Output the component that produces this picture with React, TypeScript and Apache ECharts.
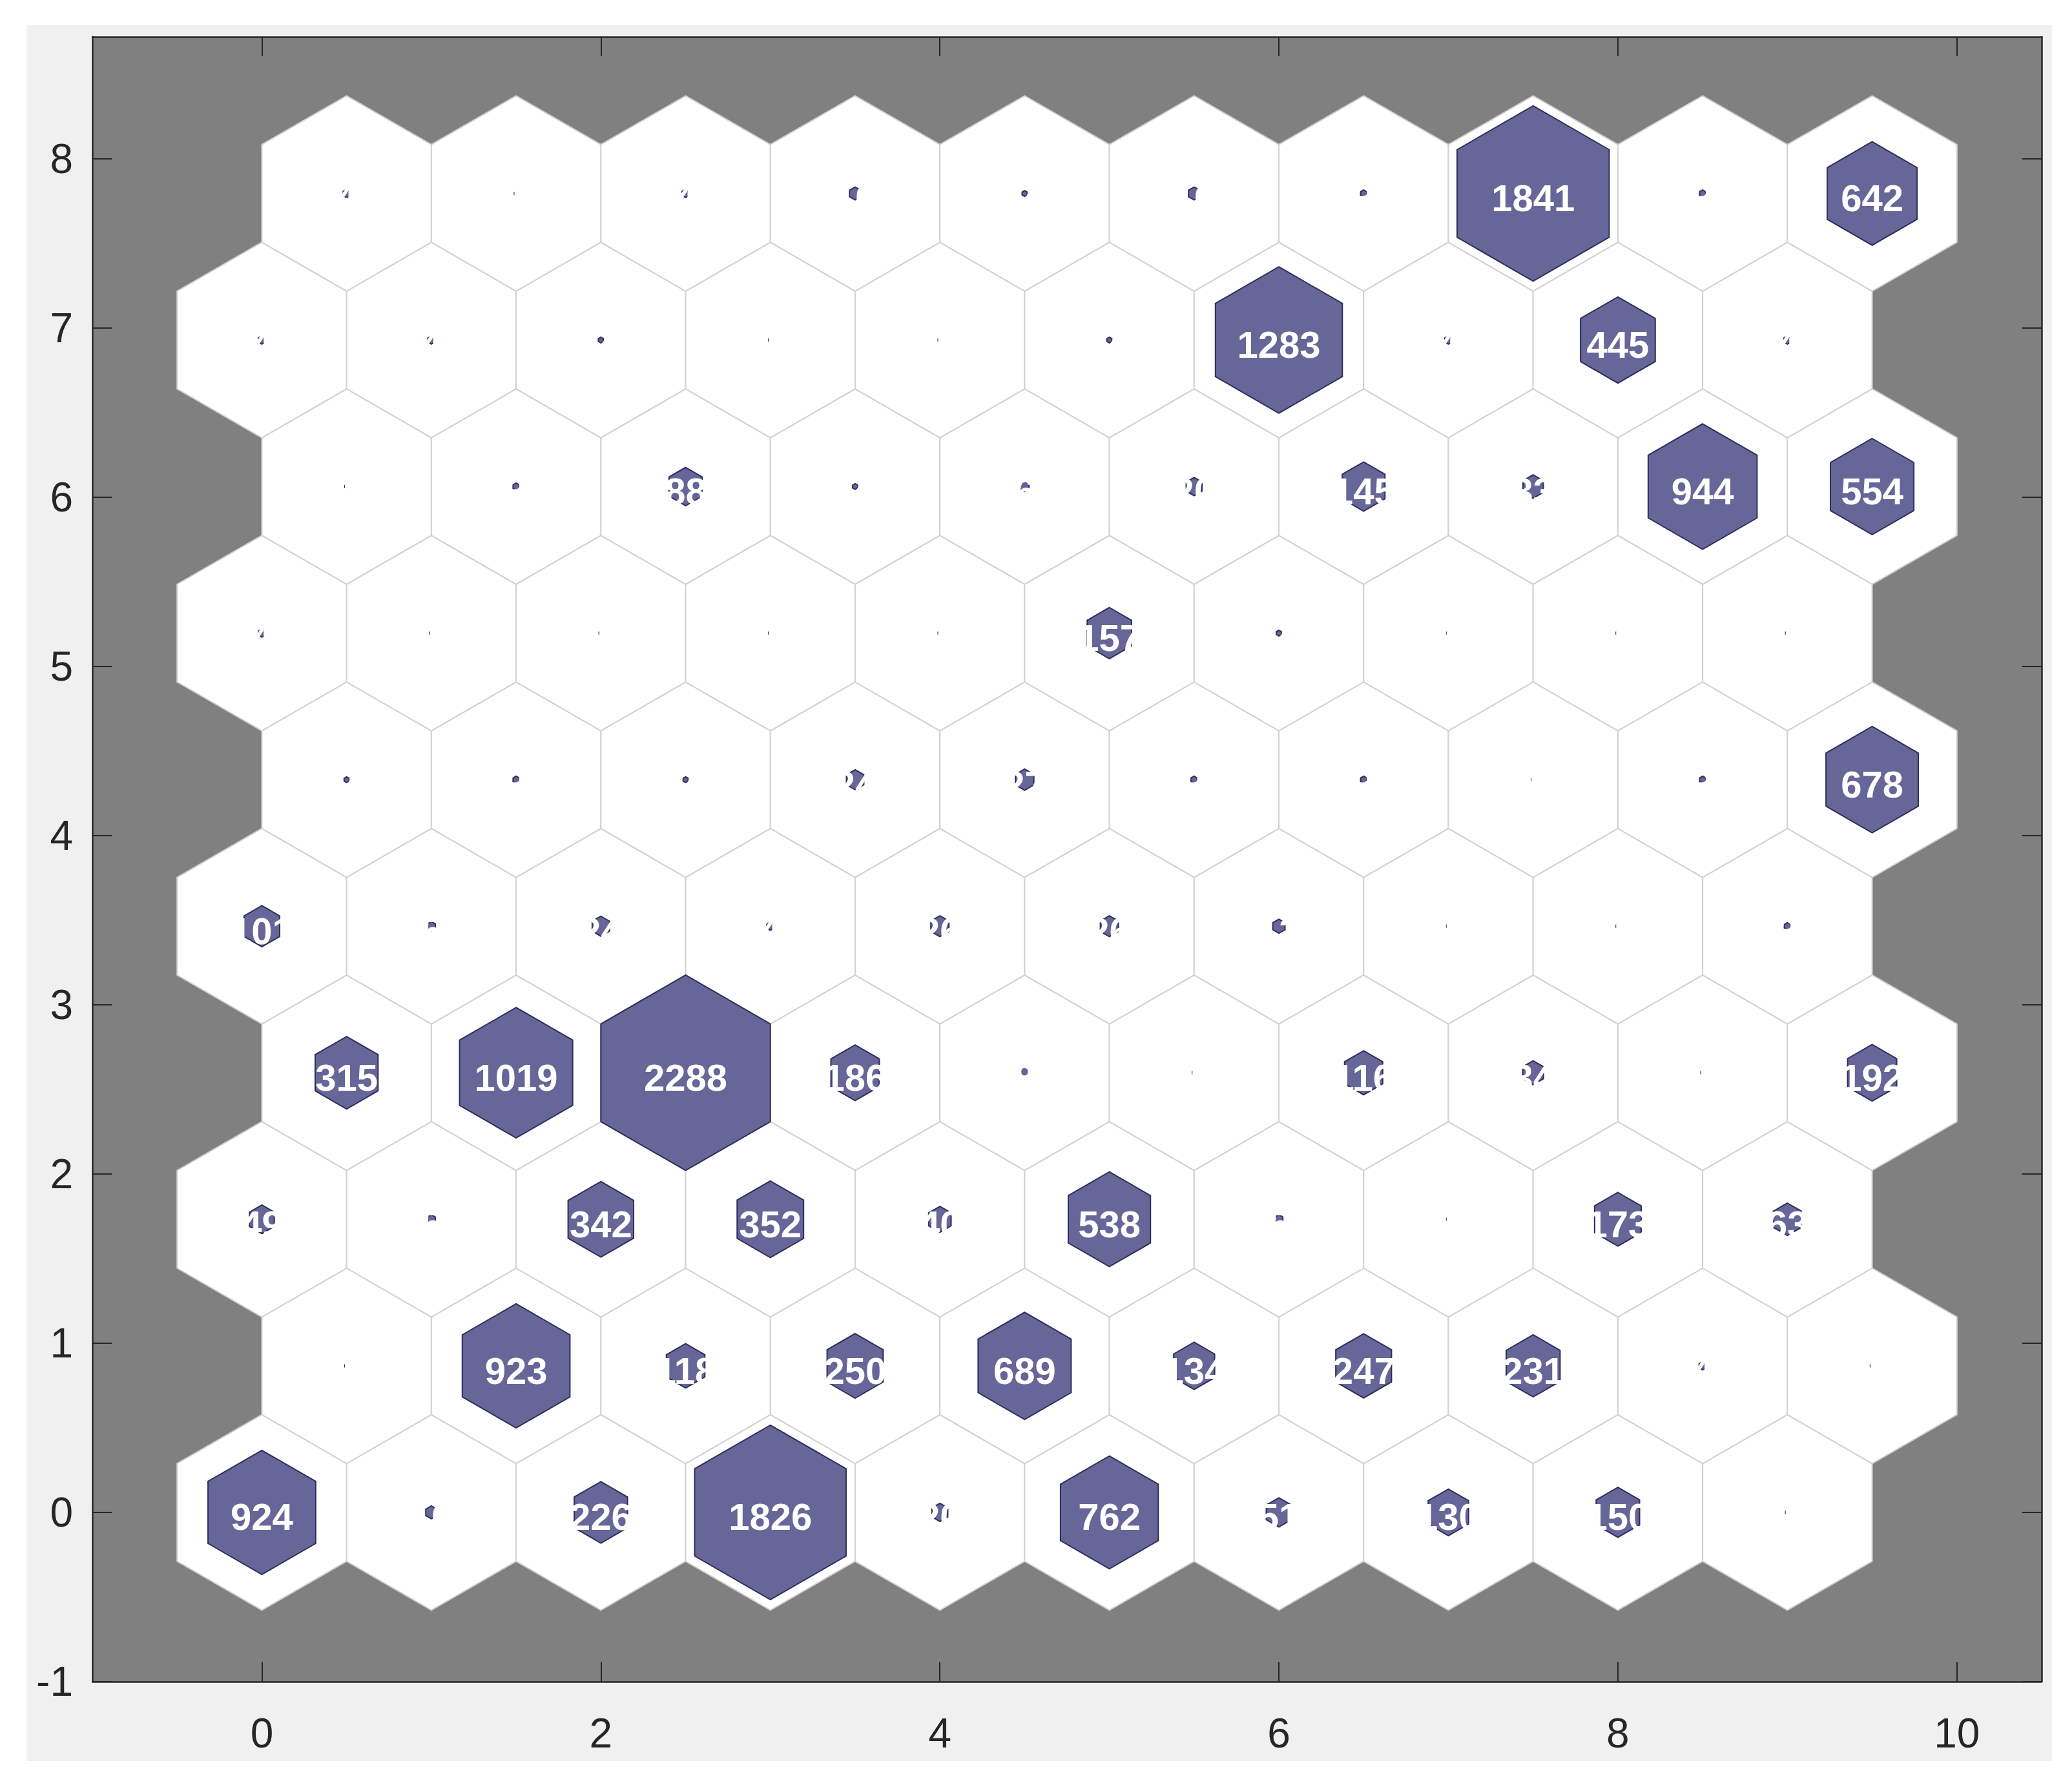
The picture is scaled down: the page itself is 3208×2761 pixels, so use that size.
import React, { useEffect, useRef } from "react";
import * as echarts from "echarts";

// Sample hits per neuron, row 0 = bottom row, column 0 = leftmost
const hitsRow0 = [924, 10, 226, 1826, 20, 762, 51, 130, 150, 1];
const hitsRow1 = [1, 923, 118, 250, 689, 134, 247, 231, 4, 1];
const hitsRow2 = [49, 5, 342, 352, 40, 538, 5, 1, 173, 63];
const hitsRow3 = [315, 1019, 2288, 186, 8, 1, 116, 34, 1, 192];
const hitsRow4 = [101, 5, 24, 4, 26, 26, 12, 1, 1, 3];
const hitsRow5 = [2, 3, 2, 24, 27, 3, 3, 1, 3, 678];
const hitsRow6 = [4, 1, 1, 1, 1, 157, 2, 1, 1, 1];
const hitsRow7 = [1, 3, 88, 2, 6, 20, 145, 33, 944, 554];
const hitsRow8 = [4, 4, 2, 1, 1, 2, 1283, 4, 445, 4];
const hitsRow9 = [4, 1, 4, 10, 2, 10, 3, 1841, 3, 642];

const xTickValues = [0, 2, 4, 6, 8, 10];
const yTickValues = [-1, 0, 1, 2, 3, 4, 5, 6, 7, 8];

const rows = [hitsRow0, hitsRow1, hitsRow2, hitsRow3, hitsRow4, hitsRow5, hitsRow6, hitsRow7, hitsRow8, hitsRow9];

const ROW_H = Math.sqrt(3) / 2;
const R = 1 / Math.sqrt(3);
const HEX = [
  [0, R],
  [0.5, R / 2],
  [0.5, -R / 2],
  [0, -R],
  [-0.5, -R / 2],
  [-0.5, R / 2],
];

const cells: number[][] = [];
rows.forEach((row, r) => {
  row.forEach((h, c) => {
    cells.push([c + (r % 2) * 0.5, r * ROW_H, h]);
  });
});
const maxHits = Math.max(...cells.map((d) => d[2]));

function hexPoints(api: any, k: number) {
  const p = api.coord([api.value(0), api.value(1)]);
  const s = api.size([1, 1]);
  return HEX.map(([dx, dy]) => [p[0] + dx * s[0] * k, p[1] - dy * s[1] * k]);
}

const AX = "#262626";
const FONT = '"Liberation Sans", Arial, Helvetica, sans-serif';

export default function App() {
  const ref = useRef<HTMLDivElement>(null);
  useEffect(() => {
    if (!ref.current) return;
    const chart = echarts.init(ref.current, undefined, { renderer: "svg" });
    const axisCommon = {
      type: "value" as const,
      axisLine: { show: true, onZero: false, lineStyle: { color: AX, width: 2.5 } },
      splitLine: { show: false },
    };
    chart.setOption({
      animation: false,
      backgroundColor: "transparent",
      grid: {
        left: 143,
        top: 57,
        width: 3018,
        height: 2547,
        show: true,
        backgroundColor: "#808080",
        borderWidth: 0,
      },
      xAxis: [
        {
          ...axisCommon,
          min: -1,
          max: 10.5,
          position: "bottom",
          axisTick: { show: true, inside: true, length: 30, lineStyle: { color: AX, width: 2 }, customValues: xTickValues },
          axisLabel: { show: true, customValues: xTickValues, color: AX, fontSize: 64, fontFamily: FONT, margin: 48 },
        },
        {
          ...axisCommon,
          min: -1,
          max: 10.5,
          position: "top",
          axisTick: { show: true, inside: true, length: 30, lineStyle: { color: AX, width: 2 }, customValues: xTickValues },
          axisLabel: { show: false },
        },
      ],
      yAxis: [
        {
          ...axisCommon,
          min: -1,
          max: 8.72,
          position: "left",
          axisTick: { show: true, inside: true, length: 30, lineStyle: { color: AX, width: 2 }, customValues: yTickValues },
          axisLabel: { show: true, customValues: yTickValues, color: AX, fontSize: 64, fontFamily: FONT, margin: 30, padding: [8, 0, 0, 0] },
        },
        {
          ...axisCommon,
          min: -1,
          max: 8.72,
          position: "right",
          axisTick: { show: true, inside: true, length: 30, lineStyle: { color: AX, width: 2 }, customValues: yTickValues },
          axisLabel: { show: false },
        },
      ],
      series: [
        {
          type: "custom",
          name: "cells",
          xAxisIndex: 0,
          yAxisIndex: 0,
          data: cells,
          encode: { x: 0, y: 1 },
          z: 2,
          silent: true,
          renderItem: (params: any, api: any) => ({
            type: "polygon",
            shape: { points: hexPoints(api, 1) },
            style: { fill: "#ffffff", stroke: "#d2d2d2", lineWidth: 2 },
          }),
        },
        {
          type: "custom",
          name: "hits",
          xAxisIndex: 0,
          yAxisIndex: 0,
          data: cells,
          encode: { x: 0, y: 1 },
          z: 3,
          silent: true,
          renderItem: (params: any, api: any) => {
            const k = Math.sqrt(api.value(2) / maxHits);
            return {
              type: "polygon",
              shape: { points: hexPoints(api, k) },
              style: { fill: "#666699", stroke: "#2f2f5c", lineWidth: 2 },
            };
          },
        },
        {
          type: "custom",
          name: "labels",
          xAxisIndex: 0,
          yAxisIndex: 0,
          data: cells,
          encode: { x: 0, y: 1 },
          z: 4,
          silent: true,
          renderItem: (params: any, api: any) => {
            const p = api.coord([api.value(0), api.value(1)]);
            return {
              type: "text",
              x: p[0],
              y: p[1] + 7,
              style: {
                text: String(api.value(2)),
                fill: "#ffffff",
                font: `bold 58px ${FONT}`,
                align: "center",
                verticalAlign: "middle",
              },
            };
          },
        },
      ],
    });
    return () => chart.dispose();
  }, []);

  return (
    <div style={{ position: "absolute", left: 0, top: 0, width: 3208, height: 2761, background: "#ffffff" }}>
      <div style={{ position: "absolute", left: 41, top: 39, width: 3136, height: 2688, background: "#f0f0f0" }} />
      <div ref={ref} style={{ position: "absolute", left: 0, top: 0, width: 3208, height: 2761 }} />
    </div>
  );
}
